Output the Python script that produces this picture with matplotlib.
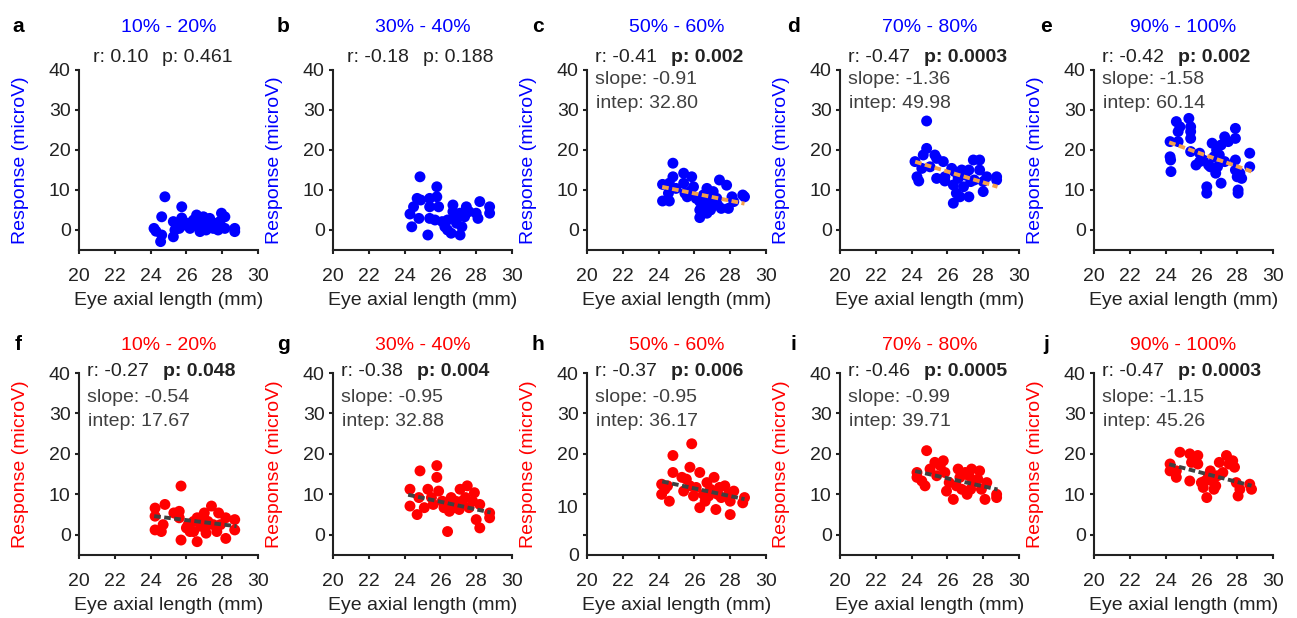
import matplotlib
matplotlib.use("Agg")
import matplotlib.pyplot as plt

plt.rcParams["font.family"] = ["Liberation Sans", "DejaVu Sans"]

# ---- data ----
panel_letters = ["a", "b", "c", "d", "e", "f", "g", "h", "i", "j"]
bin_labels = ["10% - 20%", "30% - 40%", "50% - 60%", "70% - 80%", "90% - 100%"] * 2
r_vals = ["0.10", "-0.18", "-0.41", "-0.47", "-0.42",
          "-0.27", "-0.38", "-0.37", "-0.46", "-0.47"]
p_vals = ["0.461", "0.188", "0.002", "0.0003", "0.002",
          "0.048", "0.004", "0.006", "0.0005", "0.0003"]
slopes = [None, None, -0.91, -1.36, -1.58, -0.54, -0.95, -0.95, -0.99, -1.15]
intercepts = [None, None, 32.80, 49.98, 60.14, 17.67, 32.88, 36.17, 39.71, 45.26]
fit_x = [24.2, 28.8]

x_a = [24.19, 24.3, 24.62, 24.62, 24.56, 24.8, 25.27, 25.27, 25.36, 25.74, 25.74, 25.6, 26.1,
       26.4, 26.57, 26.66, 26.76, 27.04, 27.1, 27.3, 27.4, 27.77, 27.87, 27.96, 28.15, 28.15,
       28.7, 28.7, 26.2, 26.85, 27.5, 25.9, 26.5, 27.2, 27.7, 25.45, 26.95]
y_a = [0.4, -0.3, 3.3, -1.25, -2.9, 8.3, 2.1, -1.7, 0.0, 5.8, 3.0, 0.4, 1.7, 2.5, 3.75, 0.8,
       -0.4, 2.1, 0.0, 2.9, 1.25, 0.0, 2.1, 4.2, 3.3, 0.4, 0.4, -0.4, 0.4, 1.7, 0.4, 1.25,
       1.25, 1.7, 1.7, 1.25, 3.3]

x_b = [24.86, 24.4, 24.3, 24.5, 24.8, 24.7, 24.9, 25.3, 25.4, 25.4, 25.4, 25.8, 25.8, 25.9,
       25.7, 26.1, 26.25, 26.4, 26.6, 26.7, 26.7, 26.8, 27.1, 27.2, 27.1, 27.45, 27.35, 28.0,
       28.1, 28.2, 28.75, 28.75, 26.9, 27.6, 26.4]
y_b = [13.3, 0.8, 4.0, 5.8, 2.9, 7.9, 7.5, -1.25, 7.9, 5.8, 2.9, 10.8, 8.3, 5.8, 2.5, 2.1,
       0.8, 0.0, -0.8, 6.25, 4.6, 2.9, -1.25, 0.8, 4.2, 5.8, 3.3, 4.2, 2.9, 7.1, 5.8, 4.2,
       1.7, 4.6, 2.5]

x_c = [24.22, 24.22, 24.55, 24.6, 24.8, 24.8, 24.6, 24.97, 25.4, 25.4, 25.47, 25.6, 25.85,
       25.95, 25.75, 26.3, 26.3, 26.3, 26.5, 26.7, 26.8, 26.9, 27.05, 27.15, 27.25, 27.4,
       27.5, 27.8, 27.9, 28.1, 28.2, 28.8, 28.7, 26.6, 27.0, 27.3, 26.7, 26.1]
y_c = [11.4, 7.25, 9.2, 7.25, 16.7, 13.3, 11.7, 10.4, 14.2, 11.7, 9.2, 8.3, 13.3, 10.8, 9.6,
       7.1, 5.0, 3.1, 8.75, 10.4, 7.1, 5.0, 9.6, 6.25, 7.9, 12.5, 5.4, 11.2, 5.4, 8.3, 7.1,
       8.3, 8.75, 6.25, 7.9, 6.25, 4.2, 7.9]

x_d = [24.19, 24.3, 24.4, 24.57, 24.65, 24.84, 24.84, 25.03, 25.3, 25.4, 25.4, 25.77, 25.86,
       25.86, 26.24, 26.33, 26.33, 26.5, 26.7, 26.8, 26.98, 27.2, 27.2, 27.3, 27.45, 27.5,
       27.8, 27.8, 28.0, 28.0, 28.2, 28.75, 28.75, 26.6, 26.9, 26.4]
y_d = [17.1, 13.3, 12.25, 15.4, 18.75, 20.4, 27.25, 15.8, 18.75, 17.9, 12.9, 17.1, 13.3,
       12.25, 15.4, 11.25, 6.7, 9.2, 8.3, 15.0, 13.75, 8.3, 15.0, 12.1, 17.5, 12.5, 17.5,
       15.0, 12.1, 9.6, 13.3, 13.3, 12.5, 12.9, 10.8, 14.6]

x_e = [24.25, 24.25, 24.28, 24.3, 24.6, 24.7, 24.7, 24.8, 25.3, 25.4, 25.4, 25.4, 25.4, 25.7,
       25.9, 26.1, 26.3, 26.3, 26.4, 26.6, 26.7, 26.8, 26.85, 27.1, 27.1, 27.3, 27.3, 27.5,
       27.9, 27.9, 27.9, 27.9, 28.0, 28.05, 28.05, 28.15, 28.25, 28.7, 28.7, 26.5, 26.9,
       25.9, 27.0]
y_e = [22.1, 18.3, 17.5, 14.6, 27.1, 22.1, 24.6, 25.8, 27.9, 25.8, 24.6, 22.9, 19.6, 16.25,
       19.2, 17.5, 10.8, 9.2, 16.25, 21.7, 18.3, 14.2, 20.0, 21.25, 11.7, 23.3, 17.1, 22.1,
       25.4, 22.9, 17.5, 15.0, 13.3, 10.0, 9.2, 14.2, 12.9, 19.2, 15.8, 15.8, 15.8, 17.1,
       18.75]

x_f = [24.25, 24.25, 24.25, 24.6, 24.8, 24.7, 25.3, 25.6, 25.6, 25.7, 25.7, 26.1, 26.2, 26.6,
       26.6, 26.8, 27.0, 27.1, 27.4, 27.5, 27.8, 27.9, 28.2, 28.2, 28.7, 28.7, 26.4, 26.8,
       27.2, 27.7, 26.0, 27.1, 26.4]
y_f = [6.6, 4.6, 1.2, 0.8, 7.5, 2.5, 5.4, 5.8, 4.2, -1.3, 12.05, 2.5, 0.8, -1.7, 4.2, 2.1,
       5.4, 0.4, 7.1, 2.5, 5.4, 2.5, 4.2, -0.9, 3.75, 1.2, 3.3, 4.2, 3.3, 0.8, 1.7, 2.1, 0.8]

x_g = [24.3, 24.3, 24.7, 24.8, 24.86, 25.1, 25.3, 25.5, 25.8, 25.8, 25.6, 25.9, 26.1, 26.4,
       26.5, 26.66, 26.85, 27.05, 27.1, 27.4, 27.5, 27.6, 27.9, 28.0, 28.2, 28.2, 28.75,
       28.75, 26.2, 26.75, 27.2, 27.8, 26.6]
y_g = [11.25, 7.1, 5.0, 9.2, 15.8, 6.7, 11.25, 9.2, 17.1, 14.2, 7.5, 10.8, 8.3, 0.8, 5.8, 7.9,
       8.3, 6.25, 11.25, 9.2, 12.1, 6.7, 10.4, 3.75, 7.5, 1.7, 5.4, 4.2, 6.7, 6.7, 8.3, 8.3,
       9.2]

x_h = [24.17, 24.17, 24.35, 24.6, 24.8, 24.8, 25.3, 25.4, 25.55, 25.75, 25.85, 25.95, 26.3,
       26.3, 26.5, 26.7, 26.9, 27.1, 27.2, 27.4, 27.7, 27.9, 28.0, 28.0, 28.2, 28.8, 28.7,
       26.1, 26.8, 27.3, 27.5, 26.6, 24.5, 25.75]
y_h = [12.5, 10.0, 11.25, 8.3, 19.6, 15.4, 14.2, 10.8, 13.75, 16.7, 22.5, 9.6, 15.4, 6.7,
       10.0, 12.9, 11.25, 14.2, 6.25, 11.7, 12.1, 10.0, 8.3, 5.0, 10.8, 9.2, 7.9, 11.7, 9.6,
       10.0, 9.2, 8.3, 12.1, 12.1]

x_i = [24.3, 24.3, 24.57, 24.75, 24.84, 25.03, 25.3, 25.4, 25.6, 25.77, 25.86, 25.95, 26.1,
       26.33, 26.6, 26.7, 26.8, 27.1, 27.2, 27.35, 27.45, 27.8, 27.9, 28.1, 28.2, 28.75,
       28.75, 27.0, 26.5, 27.7, 27.3]
y_i = [14.2, 15.4, 13.3, 12.1, 20.8, 16.25, 17.9, 14.6, 17.1, 18.3, 15.4, 10.8, 12.9, 8.75,
       16.25, 14.2, 11.25, 10.0, 14.6, 16.25, 12.9, 15.8, 11.25, 8.75, 12.9, 10.0, 9.2, 15.4,
       12.1, 13.75, 11.25]

x_j = [24.25, 24.25, 24.6, 24.6, 24.8, 25.35, 25.45, 25.8, 25.35, 25.8, 26.0, 26.1, 26.3,
       26.5, 26.6, 26.7, 26.9, 27.0, 27.2, 27.4, 27.75, 27.85, 27.95, 28.05, 28.15, 28.7,
       28.8, 26.2, 26.8, 27.55, 26.4]
y_j = [17.5, 15.8, 14.2, 15.8, 20.4, 20.0, 17.9, 19.6, 13.3, 17.5, 12.9, 11.7, 9.2, 15.8,
       13.3, 11.25, 14.6, 17.9, 15.4, 19.6, 18.3, 16.7, 12.9, 9.6, 11.25, 12.5, 11.25, 13.3,
       12.1, 17.5, 14.6]

xs = [x_a, x_b, x_c, x_d, x_e, x_f, x_g, x_h, x_i, x_j]
ys = [y_a, y_b, y_c, y_d, y_e, y_f, y_g, y_h, y_i, y_j]

# ---- layout (pixels of the 1297x618 canvas) ----
W, H = 1297, 618
ax_lefts = [79, 333, 587, 840, 1094]
ax_w = 179
rows = [(70, 250), (373, 555)]          # axes top / bottom per row
letter_x = [18, 283, 538, 793, 1046]
letter_y = [27, 345]
FS = 14

TXT = "#222222"
SUB = "#404040"
row_colors = ["#0000FF", "#FF0000"]
line_colors = ["#F4A04A", "#404040"]

fig = plt.figure(figsize=(W / 100, H / 100), dpi=100)

for k in range(10):
    row, col = divmod(k, 5)
    top, bot = rows[row]
    ax = fig.add_axes([ax_lefts[col] / W, 1 - bot / H, ax_w / W, (bot - top) / H])
    hpx = bot - top
    c = row_colors[row]

    ax.scatter(xs[k], ys[k], s=62, color=c, edgecolors="none", zorder=2, clip_on=False)
    if slopes[k] is not None:
        ax.plot(fit_x, [intercepts[k] + slopes[k] * v for v in fit_x],
                color=line_colors[row], lw=2.8, ls=(0, (1.7, 0.9)), zorder=3)

    ax.set_xlim(20, 30)
    ax.set_ylim(-5, 40)
    ax.set_xticks(range(20, 31, 2))
    ax.set_yticks(range(0, 41, 10))
    for s in ["top", "right"]:
        ax.spines[s].set_visible(False)
    for s in ["left", "bottom"]:
        ax.spines[s].set_linewidth(1.5)
        ax.spines[s].set_color("#222222")
    ax.tick_params(direction="out", length=3, width=1.5, labelsize=FS,
                   colors=TXT)
    ax.tick_params(axis="x", pad=10)
    ax.tick_params(axis="y", pad=3)

    if panel_letters[k] == "h":
        # the reference shows the lower two labels shifted off their ticks
        ax.set_yticklabels(["", "", "20", "30", "40"])
        for lab, yv in [("10", 6.6), ("0", -5.4)]:
            ax.annotate(lab, xy=(0, yv), xycoords=ax.get_yaxis_transform(),
                        xytext=(-6, 0), textcoords="offset points",
                        ha="right", va="center", fontsize=FS, color=TXT,
                        annotation_clip=False)

    ax.set_xlabel("Eye axial length (mm)", fontsize=FS, color=TXT, labelpad=5)
    ax.set_ylabel("Response (microV)", fontsize=FS, color=c)
    ax.yaxis.set_label_coords(-0.28, 0.5)

    # bin title and panel letter
    title_y = 1 + (top - [27, 345][row]) / hpx
    ax.text(0.5, title_y, bin_labels[k], transform=ax.transAxes, ha="center",
            va="center", fontsize=FS, color=c)
    fig.text(letter_x[col] / W, 1 - letter_y[row] / H, panel_letters[k],
             fontsize=15, fontweight="bold", ha="center", va="center")

    # statistics
    r_y = 1 + (top - [57, 372][row]) / hpx
    r_x = (14 if slopes[k] is None else 8) / ax_w
    rt = ax.text(r_x, r_y, f"r: {r_vals[k]}", transform=ax.transAxes, ha="left",
                 va="center", fontsize=FS, color=TXT)
    bold = float(p_vals[k]) < 0.05
    ax.annotate(f"p: {p_vals[k]}", xy=(1, 0.5), xycoords=rt, xytext=(10, 0),
                textcoords="offset points", ha="left", va="center", fontsize=FS,
                color=TXT, fontweight="bold" if bold else "normal")
    if slopes[k] is not None:
        s_y = 1 + (top - [80, 398][row]) / hpx
        i_y = 1 + (top - [103, 422][row]) / hpx
        ax.text(8 / ax_w, s_y, f"slope: {slopes[k]:.2f}", transform=ax.transAxes,
                ha="left", va="center", fontsize=FS, color=SUB)
        ax.text(9 / ax_w, i_y, f"intep: {intercepts[k]:.2f}", transform=ax.transAxes,
                ha="left", va="center", fontsize=FS, color=SUB)

fig.savefig("out.png", dpi=100)
